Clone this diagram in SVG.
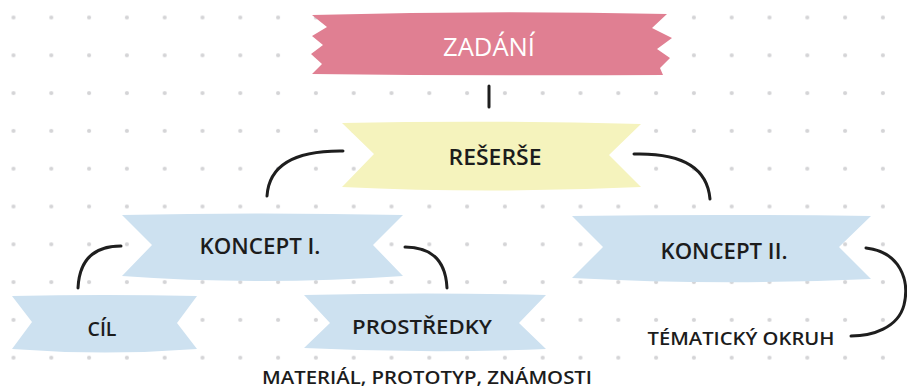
<svg xmlns="http://www.w3.org/2000/svg" width="907" height="391" viewBox="0 0 907 391">
<defs>
<pattern id="dots" x="-5.4" y="-1.4" width="37.8" height="37.8" patternUnits="userSpaceOnUse">
<circle cx="18.9" cy="18.9" r="2.1" fill="#d4d4d6"/>
</pattern>
<style>
.lbl{font-family:"Open Sans","Liberation Sans",sans-serif;font-weight:600;fill:#1c1c1c;text-anchor:middle}
.conn{fill:none;stroke:#1e1e1e;stroke-width:3;stroke-linecap:round}
.blue{fill:#cde1f0}
</style>
</defs>
<rect width="907" height="391" fill="#ffffff"/>
<rect width="907" height="391" fill="url(#dots)"/>

<g id="connectors">
<path class="conn" d="M489,86 L489,107"/>
<path class="conn" d="M343,151 Q270,150 267,196"/>
<path class="conn" d="M634,154 Q706,152 710,199"/>
<path class="conn" d="M121,246 Q80,246 78,288"/>
<path class="conn" d="M405,247 Q445,247 447,288"/>
<path class="conn" d="M866,248 C900,252 910,280 904,305 C898,328 872,336 851,336"/>
</g>

<g id="zadani">
<path fill="#e07f92" d="M312,15 Q490,10 667,14 L652,28 L672,38 L657,49 L670,58 L660,68 L663,75 Q490,76 312,74 L322,64 L311,54 L323,45 L312,36 L327,27 Z"/>
<text x="489" y="56" style="font-family:'Open Sans','Liberation Sans',sans-serif;font-weight:500;fill:#ffffff;text-anchor:middle" font-size="25" textLength="92" lengthAdjust="spacingAndGlyphs">ZADÁNÍ</text>
</g>

<g id="reserse">
<path fill="#f5f3bd" d="M342,123 Q490,120 641,124 L609,155 L641,187 Q490,194 342,187 L374,154 Z"/>
<text class="lbl" x="495" y="165" font-size="21" textLength="93" lengthAdjust="spacingAndGlyphs">REŠERŠE</text>
</g>

<g id="koncept1">
<path class="blue" d="M122,215 Q260,212 403,215 L373,245 L403,276 Q260,286 122,276 L152,245 Z"/>
<text class="lbl" x="260" y="254" font-size="21" textLength="121" lengthAdjust="spacingAndGlyphs">KONCEPT I.</text>
</g>

<g id="koncept2">
<path class="blue" d="M572,216 Q720,214 871,216 L839,247 L871,279 Q720,286 572,278 L603,247 Z"/>
<text class="lbl" x="724" y="259" font-size="21" textLength="127" lengthAdjust="spacingAndGlyphs">KONCEPT II.</text>
</g>

<g id="cil">
<path class="blue" d="M12,296 Q105,294 197,296 L177,323 L197,349 Q105,356 12,349 L32,322 Z"/>
<text class="lbl" x="102" y="336" font-size="20" textLength="29" lengthAdjust="spacingAndGlyphs">CÍL</text>
</g>

<g id="prostredky">
<path class="blue" d="M304,295 Q425,292 546,295 L519,323 L546,349 Q425,354 304,348 L330,323 Z"/>
<text class="lbl" x="422" y="334" font-size="20" textLength="140" lengthAdjust="spacingAndGlyphs">PROSTŘEDKY</text>
</g>

<g id="material">
<text class="lbl" x="427" y="384" font-size="18" textLength="330" lengthAdjust="spacingAndGlyphs">MATERIÁL, PROTOTYP, ZNÁMOSTI</text>
</g>

<g id="tematicky">
<text class="lbl" x="741" y="345" font-size="18" textLength="187" lengthAdjust="spacingAndGlyphs">TÉMATICKÝ OKRUH</text>
</g>
</svg>
